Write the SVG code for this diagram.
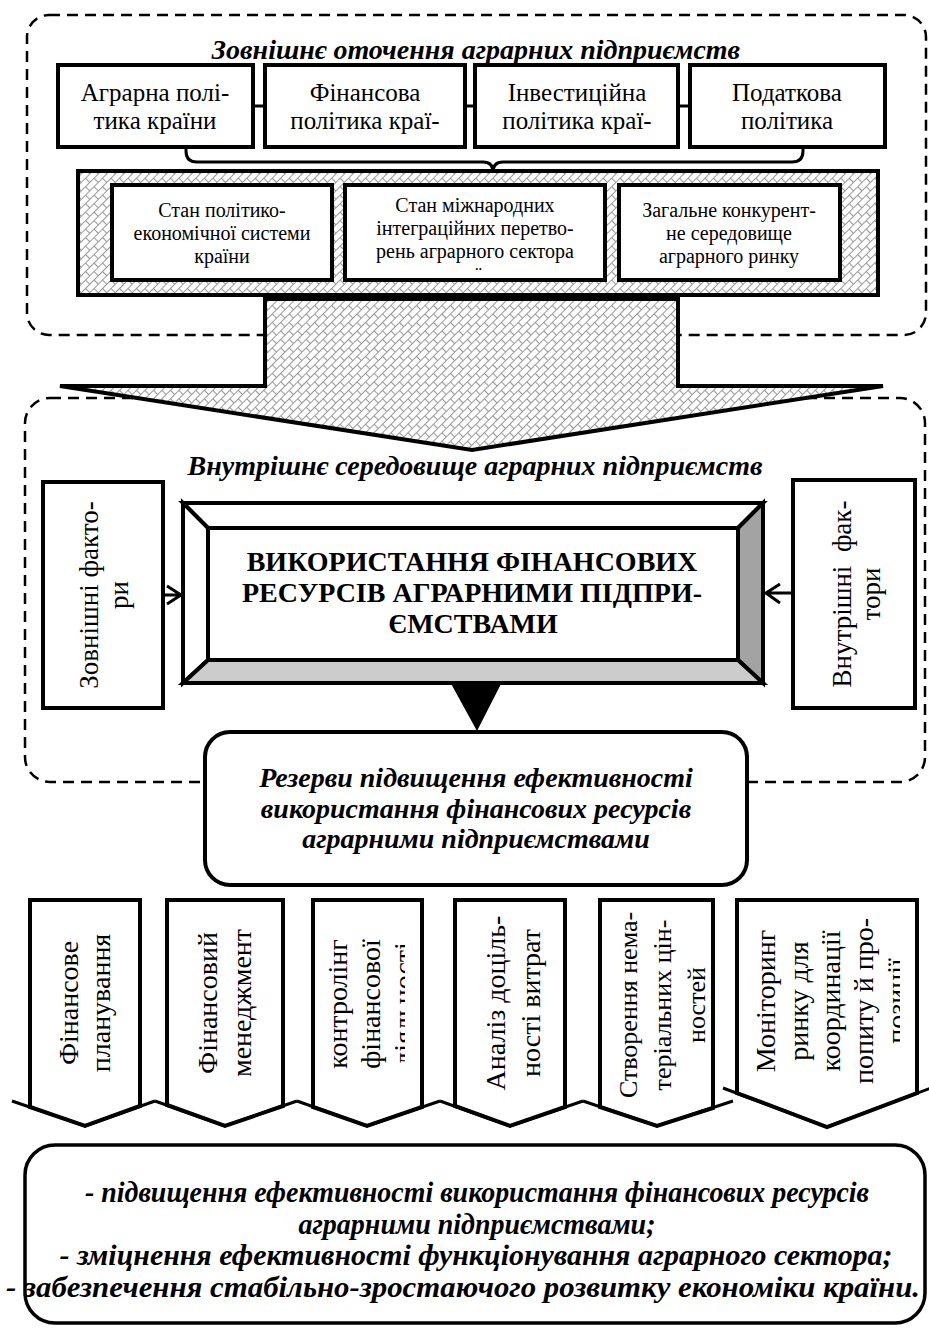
<svg xmlns="http://www.w3.org/2000/svg" width="929" height="1328" viewBox="0 0 929 1328">
<style>
.box{fill:#fff;stroke:#000;stroke-width:4}
.dash{fill:none;stroke:#000;stroke-width:2.5;stroke-dasharray:11 7}
.ln{fill:none;stroke:#000;stroke-width:3}
.t{font-family:'Liberation Serif','DejaVu Serif Condensed','DejaVu Serif',serif;fill:#000}
.bi{font-weight:bold;font-style:italic}
.b{font-weight:bold}
.m{text-anchor:middle}
</style>
<defs>
<pattern id="brick" width="12" height="12" patternUnits="userSpaceOnUse" patternTransform="rotate(-45)">
<rect width="12" height="12" fill="#fff"/>
<path d="M0,0.5H12M0,6.5H12M0.5,0V6.5M6.5,6.5V12" stroke="#999" stroke-width="1.1" fill="none"/>
</pattern>
<clipPath id="clipB"><rect x="345" y="185" width="260" height="87"/></clipPath>
<clipPath id="clip3"><rect x="313" y="900" width="92" height="210"/></clipPath>
<clipPath id="clip6"><rect x="737" y="900" width="163" height="210"/></clipPath>
</defs>

<g id="outer-env">
<rect class="dash" x="27" y="15" width="899" height="320" rx="22"/>
<text class="t bi m" x="476" y="59" font-size="28">Зовнішнє оточення аграрних підприємств</text>
</g>

<g id="inner-env">
<rect class="dash" x="25" y="398" width="900" height="384" rx="25"/>
</g>

<g id="hatch-box">
<rect x="78" y="171" width="800" height="124" fill="url(#brick)" stroke="#000" stroke-width="4"/>
</g>

<g id="big-arrow">
<polygon points="265,299 678,299 678,386 883,386 472,450 60,386 265,386" fill="url(#brick)" stroke="#000" stroke-width="4" stroke-linejoin="miter"/>
</g>

<text class="t bi m" x="475" y="475" font-size="28">Внутрішнє середовище аграрних підприємств</text>

<g id="connectors">
<line class="ln" x1="253" y1="106" x2="265" y2="106"/>
<line class="ln" x1="465" y1="106" x2="475" y2="106"/>
<line class="ln" x1="678" y1="106" x2="690" y2="106"/>
<path class="ln" d="M186,147 V151 Q186,162 197,162 H483 Q493,162 493,172 Q493,162 503,162 H792 Q803,162 803,151 V147"/>
<path class="ln" d="M163,595 H181 M167,586 L181,595 L167,604"/>
<path class="ln" d="M793,593 H766 M780,584 L766,593 L780,603"/>
<polygon points="467,675 485,675 485,680 503,680 477,731 449,680 467,680" fill="#000"/>
</g>

<g id="agr-policy">
<rect class="box" x="58" y="65" width="195" height="82"/>
<text class="t m" font-size="25"><tspan x="155" y="101">Аграрна полі-</tspan><tspan x="155" y="129">тика країни</tspan></text>
</g>
<g id="fin-policy">
<rect class="box" x="265" y="65" width="200" height="82"/>
<text class="t m" font-size="25"><tspan x="365" y="101">Фінансова</tspan><tspan x="365" y="129">політика краї-</tspan></text>
</g>
<g id="inv-policy">
<rect class="box" x="475" y="65" width="203" height="82"/>
<text class="t m" font-size="25"><tspan x="577" y="101">Інвестиційна</tspan><tspan x="577" y="129">політика краї-</tspan></text>
</g>
<g id="tax-policy">
<rect class="box" x="690" y="65" width="195" height="82"/>
<text class="t m" font-size="25"><tspan x="787" y="101">Податкова</tspan><tspan x="787" y="129">політика</tspan></text>
</g>

<g id="state-polit">
<rect class="box" x="112" y="185" width="220" height="95"/>
<text class="t m" font-size="20"><tspan x="222" y="217">Стан політико-</tspan><tspan x="222" y="240">економічної системи</tspan><tspan x="222" y="263">країни</tspan></text>
</g>
<g id="state-intl">
<rect class="box" x="345" y="185" width="260" height="95"/>
<text class="t m" font-size="20" clip-path="url(#clipB)"><tspan x="475" y="212">Стан міжнародних</tspan><tspan x="475" y="235">інтеграційних перетво-</tspan><tspan x="475" y="258">рень аграрного сектора</tspan><tspan x="475" y="282">країни</tspan></text>
</g>
<g id="competition">
<rect class="box" x="619" y="185" width="221" height="95"/>
<text class="t m" font-size="20"><tspan x="729" y="217">Загальне конкурент-</tspan><tspan x="729" y="240">не середовище</tspan><tspan x="729" y="263">аграрного ринку</tspan></text>
</g>

<g id="ext-factors">
<rect class="box" x="43" y="482" width="120" height="226"/>
<text class="t m" font-size="27" transform="translate(103,595) rotate(-90)"><tspan x="0" y="-5">Зовнішні факто-</tspan><tspan x="0" y="25">ри</tspan></text>
</g>
<g id="int-factors">
<rect class="box" x="793" y="480" width="122" height="228"/>
<text class="t m" font-size="27" transform="translate(854,594) rotate(-90)"><tspan x="0" y="-3">Внутрішні&#160; фак-</tspan><tspan x="0" y="26">тори</tspan></text>
</g>

<g id="main-box" stroke="#000" stroke-width="4" stroke-linejoin="miter">
<polygon points="183,503 763,503 738,528 208,528" fill="#fff"/>
<polygon points="183,503 208,528 208,660 183,683" fill="#fff"/>
<polygon points="763,503 763,683 738,660 738,528" fill="#a3a3a3"/>
<polygon points="183,683 763,683 738,660 208,660" fill="#cccccc"/>
<rect x="208" y="528" width="530" height="132" fill="#fff"/>
<text class="t b m" font-size="28" stroke="none"><tspan x="472" y="571">ВИКОРИСТАННЯ ФІНАНСОВИХ</tspan><tspan x="472" y="602">РЕСУРСІВ АГРАРНИМИ ПІДПРИ-</tspan><tspan x="473" y="633">ЄМСТВАМИ</tspan></text>
</g>

<g id="reserves">
<rect class="box" x="205" y="732" width="542" height="153" rx="25"/>
<text class="t bi m" font-size="28"><tspan x="476" y="787">Резерви підвищення ефективності</tspan><tspan x="476" y="818">використання фінансових ресурсів</tspan><tspan x="476" y="848">аграрними підприємствами</tspan></text>
</g>

<g id="fin-planning">
<polygon class="box" points="30,900 140,900 140,1106 85,1126 30,1107"/>
<polyline class="ln" points="12,1101 85,1126 155,1101" stroke-width="4"/>
<text class="t m" font-size="28" transform="translate(85,1003) rotate(-90)"><tspan x="0" y="-7">Фінансове</tspan><tspan x="0" y="25">планування</tspan></text>
</g>
<g id="fin-management">
<polygon class="box" points="167,900 283,900 283,1106 225,1126 167,1105"/>
<polyline class="ln" points="155,1101 225,1126 297,1101" stroke-width="4"/>
<text class="t m" font-size="28" transform="translate(225,1003) rotate(-90)"><tspan x="0" y="-8">Фінансовий</tspan><tspan x="0" y="26">менеджмент</tspan></text>
</g>
<g id="controlling">
<polygon class="box" points="313,900 422,900 422,1107 367,1126 313,1107"/>
<polyline class="ln" points="297,1101 367,1126 440,1101" stroke-width="4"/>
<g clip-path="url(#clip3)">
<text class="t m" font-size="28" transform="translate(367,1004) rotate(-90)"><tspan x="0" y="-20">контролінг</tspan><tspan x="0" y="13">фінансової</tspan><tspan x="0" y="46">діяльності</tspan></text>
</g>
</g>
<g id="cost-analysis">
<polygon class="box" points="455,900 565,900 565,1107 510,1126 455,1106"/>
<polyline class="ln" points="440,1101 510,1126 583,1101" stroke-width="4"/>
<text class="t m" font-size="28" transform="translate(510,1003) rotate(-90)"><tspan x="0" y="-5">Аналіз доціль-</tspan><tspan x="0" y="30">ності витрат</tspan></text>
</g>
<g id="intangibles">
<polygon class="box" points="600,900 713,900 713,1108 657,1126 600,1107"/>
<polyline class="ln" points="583,1101 657,1126 733,1101" stroke-width="4"/>
<text class="t m" font-size="26" transform="translate(657,1005) rotate(-90)"><tspan x="0" y="-20">Створення нема-</tspan><tspan x="0" y="14">теріальних цін-</tspan><tspan x="0" y="48">ностей</tspan></text>
</g>
<g id="monitoring">
<polygon class="box" points="737,900 917,900 917,1093 827,1127 737,1093"/>
<polyline class="ln" points="723,1088 827,1127 931,1088" stroke-width="4"/>
<g clip-path="url(#clip6)">
<text class="t m" font-size="28" transform="translate(827,1001) rotate(-90)"><tspan x="0" y="-52">Моніторинг</tspan><tspan x="0" y="-19">ринку для</tspan><tspan x="0" y="13">координації</tspan><tspan x="0" y="46">попиту й про-</tspan><tspan x="0" y="79">позиції</tspan></text>
</g>
</g>

<g id="results">
<rect x="25" y="1145" width="900" height="178" rx="30" fill="#fff" stroke="#000" stroke-width="3.5"/>
<g class="t bi m" font-size="29">
<text x="477" y="1202" textLength="784" lengthAdjust="spacingAndGlyphs">- підвищення ефективності використання фінансових ресурсів</text>
<text x="477" y="1234" textLength="357" lengthAdjust="spacingAndGlyphs">аграрними підприємствами;</text>
<text x="476" y="1265" textLength="833" lengthAdjust="spacingAndGlyphs">- зміцнення ефективності функціонування аграрного сектора;</text>
<text x="463" y="1297" textLength="914" lengthAdjust="spacingAndGlyphs">- забезпечення стабільно-зростаючого розвитку економіки країни.</text>
</g>
</g>
</svg>
